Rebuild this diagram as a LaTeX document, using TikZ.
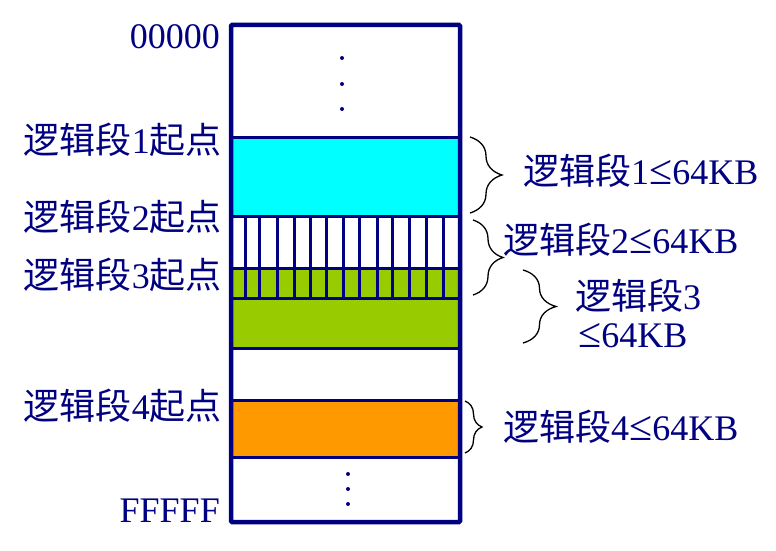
\documentclass[tikz,border=0pt]{standalone}
\usepackage{fontspec}
\setmainfont{Liberation Serif}
\newfontfamily\cjk{Noto Sans CJK SC}
\usetikzlibrary{decorations.pathreplacing}
\definecolor{mynavy}{HTML}{000080}
\definecolor{segcyan}{HTML}{00FFFF}
\definecolor{seggreen}{HTML}{99CC00}
\definecolor{segorange}{HTML}{FF9900}
\newcommand{\bigle}{{\fontsize{42}{40}\selectfont ≤}}
\begin{document}
\begin{tikzpicture}[x=1pt,y=-1pt,
  lbl/.style={font=\fontsize{36}{40}\selectfont, text=mynavy, inner sep=0pt},
  sepline/.style={draw=mynavy, line width=3pt},
  brc/.style={decorate, decoration={brace, amplitude=#1}, line width=1.3pt, draw=black},
  dotm/.style={circle, fill=mynavy, inner sep=0pt, minimum size=4pt}]
\useasboundingbox (0,0) rectangle (776,551);
% fills
\fill[segcyan] (231,137) rectangle (460,216);
\fill[seggreen] (231,268) rectangle (460,348);
\fill[segorange] (231,400) rectangle (460,457);
% hatching (segment 2)
\foreach \x in {245,259,277,294,310,326,343,359,377,392,409,426,443}
  \draw[sepline] (\x,216) -- (\x,298);
% separators
\foreach \y in {137,216,268,298,348,400,457}
  \draw[sepline] (231,\y) -- (460,\y);
% outline
\draw[draw=mynavy, line width=4.5pt, rounded corners=1pt] (231,25) rectangle (460,522);
% dots
\foreach \y/\n in {58/a,84/b,109/c} \node[dotm] (dt\n) at (342,\y) {};
\foreach \y/\n in {474/a,489/b,504/c} \node[dotm] (db\n) at (348,\y) {};
% left labels
\node[lbl, anchor=east] (a0) at (220,37) {00000};
\node[lbl, anchor=east] (s1) at (222,140) {{\cjk 逻辑段}1{\cjk 起点}};
\node[lbl, anchor=east] (s2) at (222,217) {{\cjk 逻辑段}2{\cjk 起点}};
\node[lbl, anchor=east] (s3) at (222,275) {{\cjk 逻辑段}3{\cjk 起点}};
\node[lbl, anchor=east] (s4) at (222,406) {{\cjk 逻辑段}4{\cjk 起点}};
\node[lbl, anchor=east] (af) at (220,511) {FFFFF};
% braces
\coordinate (b1t) at (470,137); \coordinate (b1b) at (470,213);
\coordinate (b2t) at (473,220); \coordinate (b2b) at (473,295);
\coordinate (b3t) at (523,270); \coordinate (b3b) at (523,343);
\coordinate (b4t) at (465,401); \coordinate (b4b) at (465,453);
\draw[brc=32] (b1t) -- (b1b);
\draw[brc=30] (b2t) -- (b2b);
\draw[brc=33] (b3t) -- (b3b);
\draw[brc=17] (b4t) -- (b4b);
% right labels
\node[lbl, anchor=west] (r1) at (523,171) {{\cjk 逻辑段}1\bigle64KB};
\node[lbl, anchor=west] (r2) at (503,240) {{\cjk 逻辑段}2\bigle64KB};
\node[lbl, anchor=west] (r3a) at (575,296) {{\cjk 逻辑段}3};
\node[lbl, anchor=west] (r3b) at (578,336) {\bigle64KB};
\node[lbl, anchor=west] (r4) at (503,427) {{\cjk 逻辑段}4\bigle64KB};
\end{tikzpicture}
\end{document}
